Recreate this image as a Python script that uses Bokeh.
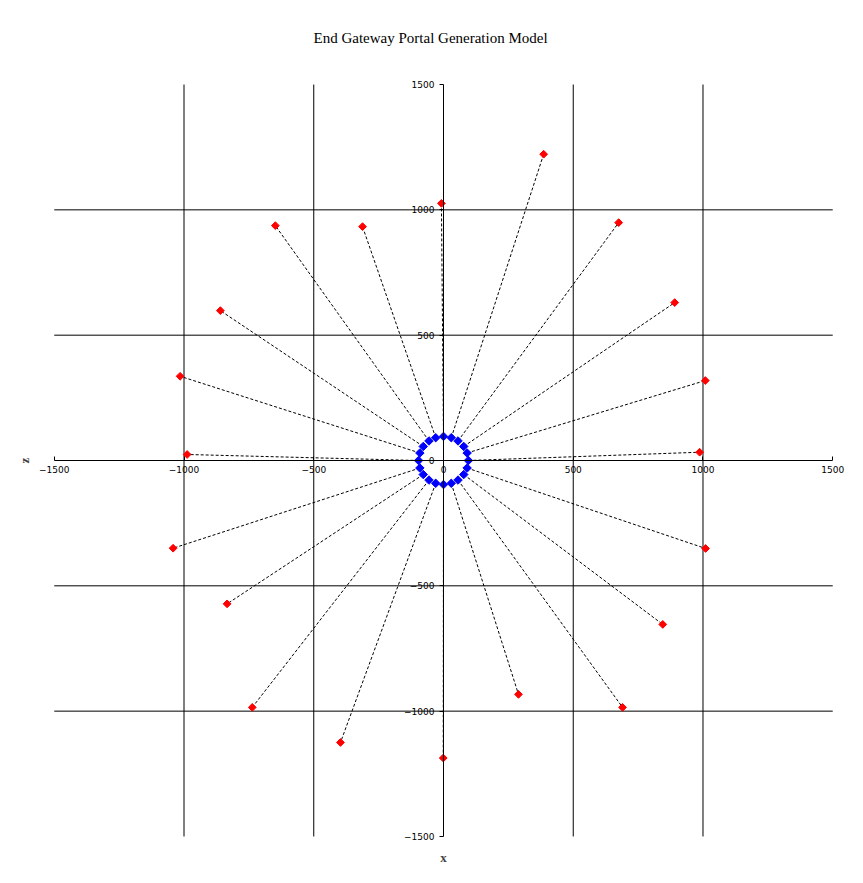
from bokeh.plotting import figure
from bokeh.models import Range1d, FixedTicker, Title
from bokeh.embed import file_html
from bokeh.resources import INLINE

# Data: inner portal ring (blue) and generated outer gateways (red), same order
inner_x = [96, 91, 78, 56, 30, 0, -30, -56, -78, -91, -96, -91, -78, -56, -30, 0, 30, 56, 78, 91]
inner_z = [0, 30, 56, 78, 91, 96, 91, 78, 56, 30, 0, -30, -56, -78, -91, -96, -91, -78, -56, -30]
outer_x = [987, 1009, 891, 675, 386, -8, -312, -648, -860, -1015, -988, -1042, -834, -737, -397, -1, 289, 690, 845, 1010]
outer_z = [33, 319, 630, 949, 1222, 1026, 933, 937, 598, 336, 24, -350, -572, -985, -1125, -1187, -933, -985, -654, -351]
ticks = [-1500, -1000, -500, 0, 500, 1000, 1500]
grid_ticks = [-1000, -500, 500, 1000]

lo, hi = ticks[0], ticks[-1]

p = figure(width=860, height=880, output_backend="svg", toolbar_location=None,
           x_range=Range1d(-1580, 1580), y_range=Range1d(-1540, 1540),
           min_border_left=33, min_border_right=7, min_border_top=74, min_border_bottom=34)
p.outline_line_color = None
p.background_fill_color = "white"
p.border_fill_color = "white"

p.title.text = "End Gateway Portal Generation Model"
p.title.align = "left"
p.title.offset = 280
p.title.vertical_align = "middle"
p.title.text_font = "Liberation Serif"
p.title.text_font_size = "15px"
p.title.text_font_style = "normal"
p.title.text_color = "black"
p.title.standoff = 56

for ax in (p.xaxis[0], p.yaxis[0]):
    ax.fixed_location = 0
    ax.bounds = (lo, hi)
    ax.ticker = FixedTicker(ticks=ticks)
    ax.minor_tick_line_color = None
    ax.axis_line_color = "black"
    ax.major_tick_line_color = "black"
    ax.major_label_text_font = "DejaVu Sans"
    ax.major_label_text_font_size = "9px"
    ax.major_label_text_color = "black"
p.xaxis.major_tick_in = 4
p.xaxis.major_tick_out = 0
p.yaxis.major_tick_in = 0
p.yaxis.major_tick_out = 4

p.xgrid.visible = False
p.ygrid.visible = False
p.segment(x0=grid_ticks, y0=[lo] * len(grid_ticks), x1=grid_ticks, y1=[hi] * len(grid_ticks),
          line_color="black", line_width=1)
p.segment(x0=[lo] * len(grid_ticks), y0=grid_ticks, x1=[hi] * len(grid_ticks), y1=grid_ticks,
          line_color="black", line_width=1)

p.add_layout(Title(text="x", align="center", text_font="Liberation Serif",
                   text_font_size="13px", text_font_style="bold", standoff=3), "below")
p.add_layout(Title(text="z", align="center", text_font="Liberation Serif",
                   text_font_size="13px", text_font_style="bold", standoff=4), "left")

xs = [[a, b] for a, b in zip(inner_x, outer_x)]
zs = [[a, b] for a, b in zip(inner_z, outer_z)]
p.multi_line(xs, zs, line_color="black", line_width=1, line_dash="3 2")
p.scatter(inner_x, inner_z, marker="square", angle=0.785398, size=6, color="#0000FF")
p.scatter(outer_x, outer_z, marker="square", angle=0.785398, size=5.5, color="#FF0000")

open("out.html", "w").write(file_html(p, INLINE))
